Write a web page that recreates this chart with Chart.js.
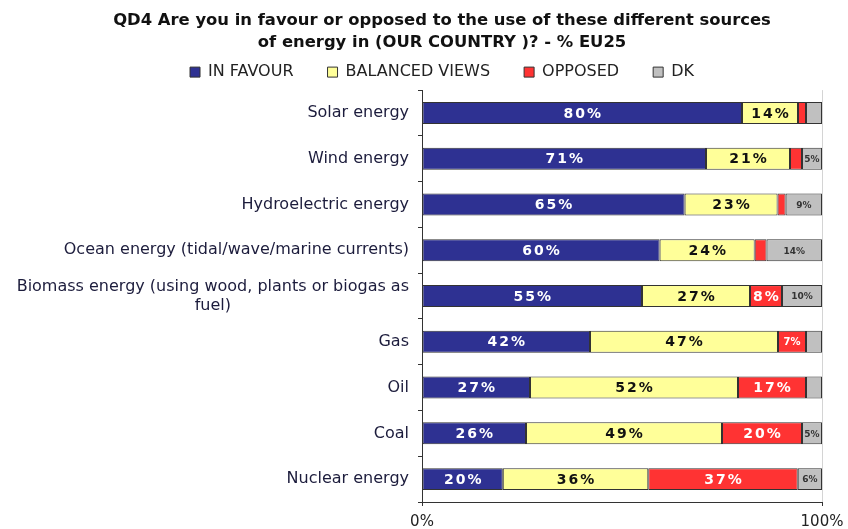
<html>
<head>
<script src="https://cdn.jsdelivr.net/npm/chart.js"></script>
<style>
    body { margin: 0; background: #fff; }
    #wrap { width: 848px; height: 529px; }
</style>
</head>
<body>
<div id="wrap"><canvas id="chart"></canvas></div>
<script>
    const sources = ['Solar energy', 'Wind energy', 'Hydroelectric energy',
        'Ocean energy (tidal/wave/marine currents)',
        ['Biomass energy (using wood, plants or biogas as', 'fuel)'],
        'Gas', 'Oil', 'Coal', 'Nuclear energy'];
    const inFavour = [80, 71, 65, 60, 55, 42, 27, 26, 20];
    const balanced = [14, 21, 23, 24, 27, 47, 52, 49, 36];
    const opposed = [2, 3, 2, 3, 8, 7, 17, 20, 37];
    const dk = [4, 5, 9, 14, 10, 4, 4, 5, 6];
    const seriesNames = ['IN FAVOUR', 'BALANCED VIEWS', 'OPPOSED', 'DK'];
    const colors = ['#2E3192', '#FFFF99', '#FF3333', '#C0C0C0'];
    const labelColors = ['#ffffff', '#111111', '#ffffff', '#333333'];
    const minLabel = [0, 0, 7, 5];

    const FONT = '"DejaVu Sans"';
    Chart.defaults.font.family = FONT;
    Chart.defaults.color = '#1c1c2c';

    // excel centres the wrapped "fuel)" under the first line
    const mctx = document.createElement('canvas').getContext('2d');
    mctx.font = '16px ' + FONT;
    const yLabels = sources.map(s => {
        if (!Array.isArray(s)) return s;
        const gap = (mctx.measureText(s[0]).width - mctx.measureText(s[1]).width) / 2;
        return [s[0], s[1] + ' '.repeat(Math.round(gap / mctx.measureText(' ').width))];
    });

    const raw = [inFavour, balanced, opposed, dk];
    const totals = sources.map((_, i) => raw.reduce((s, arr) => s + arr[i], 0));

    const barLabels = {
        id: 'barLabels',
        afterDatasetsDraw(chart) {
            const ctx = chart.ctx;
            chart.data.datasets.forEach((ds, k) => {
                chart.getDatasetMeta(k).data.forEach((bar, i) => {
                    const v = ds.raw[i];
                    if (v < minLabel[k]) return;
                    const size = k === 3 ? 9 : (v < 8 ? 10 : 14);
                    ctx.save();
                    ctx.font = `bold ${size}px ${FONT}`;
                    if (size > 10) ctx.letterSpacing = '2px';
                    ctx.fillStyle = labelColors[k];
                    ctx.textAlign = 'center';
                    ctx.textBaseline = 'middle';
                    ctx.fillText(v + '%', (bar.x + bar.base) / 2 + (size > 10 ? 1 : 0), bar.y + 1);
                    ctx.restore();
                });
            });
        }
    };

    // title and legend sit a bit right of the canvas centre in the original
    const nudgeHeader = {
        id: 'nudgeHeader',
        afterLayout(chart) {
            [chart.titleBlock, chart.legend].forEach(b => {
                if (!b) return;
                b.left += 18;
                b.right += 18;
            });
        }
    };

    new Chart(document.getElementById('chart'), {
        type: 'bar',
        data: {
            labels: yLabels,
            datasets: raw.map((arr, k) => ({
                label: seriesNames[k],
                data: arr.map((v, i) => v / totals[i] * 100),
                raw: arr,
                backgroundColor: colors[k],
                borderColor: '#333',
                borderWidth: 1,
                borderSkipped: false,
                barPercentage: 0.48,
                categoryPercentage: 1
            }))
        },
        options: {
            indexAxis: 'y',
            responsive: true,
            maintainAspectRatio: false,
            animation: false,
            layout: { padding: 0 },
            plugins: {
                title: {
                    display: true,
                    text: ['QD4 Are you in favour or opposed to the use of these different sources',
                        'of energy in (OUR COUNTRY )? - % EU25'],
                    color: '#111',
                    font: { size: 16.4, weight: 'bold', lineHeight: 1.375 },
                    padding: { top: 9, bottom: -24 }
                },
                legend: {
                    labels: {
                        boxWidth: 10,
                        boxHeight: 10,
                        padding: 34,
                        color: '#222',
                        font: { size: 16 }
                    }
                },
                tooltip: { enabled: false }
            },
            scales: {
                x: {
                    stacked: true,
                    min: 0,
                    max: 100,
                    ticks: { stepSize: 100, padding: 7, color: '#222', font: { size: 15 },
                        callback: v => v + '%' },
                    grid: { color: '#d4d4d4', tickColor: '#333', tickLength: 4 },
                    border: { color: '#333' },
                    afterFit: s => { s.height = 27; s.paddingRight = 26; s.paddingLeft = 0; }
                },
                y: {
                    stacked: true,
                    ticks: { padding: 9, color: '#1c1c3c', font: { size: 16 } },
                    grid: { drawOnChartArea: false, offset: true, tickLength: 4, tickColor: '#333' },
                    border: { color: '#333' },
                    afterFit: s => { s.width = 422; }
                }
            }
        },
        plugins: [barLabels, nudgeHeader]
    });
</script>
</body>
</html>
